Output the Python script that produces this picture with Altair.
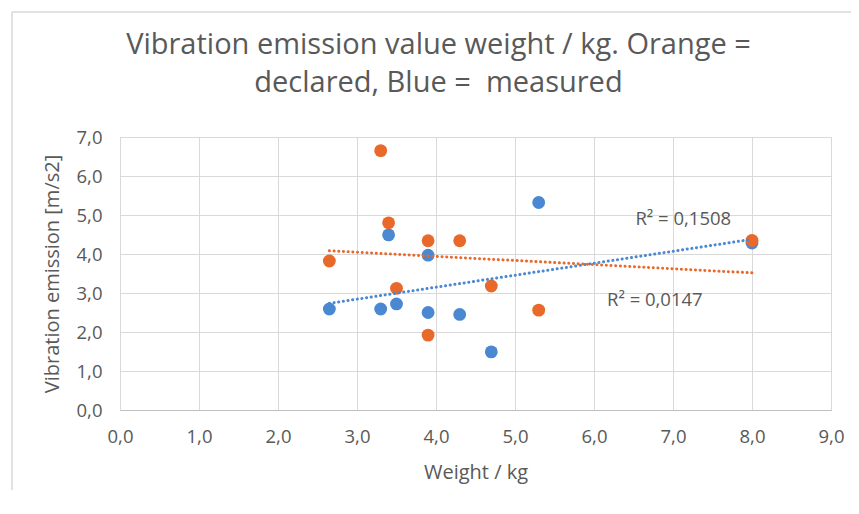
import altair as alt
import pandas as pd

# ---- data ----
weight_measured = [2.65, 3.3, 3.4, 3.5, 3.9, 3.9, 4.3, 4.7, 5.3, 8.0]
measured = [2.59, 2.59, 4.49, 2.72, 3.97, 2.50, 2.45, 1.49, 5.32, 4.28]
weight_declared = [2.65, 3.3, 3.4, 3.5, 3.9, 3.9, 4.3, 4.7, 5.3, 8.0]
declared = [3.82, 6.65, 4.80, 3.12, 4.34, 1.92, 4.34, 3.18, 2.56, 4.35]

series_names = ["measured", "declared"]
series_colors = ["#4A89D2", "#E8692A"]

r2_text = ["R\u00b2 = 0,1508", "R\u00b2 = 0,0147"]
r2_x = [7.13, 6.77]
r2_y = [4.90, 2.83]

title_lines = ["Vibration emission value weight / kg. Orange =", "declared, Blue =\u00a0 measured"]
x_ticks = [0, 1, 2, 3, 4, 5, 6, 7, 8, 9]
y_ticks = [0, 1, 2, 3, 4, 5, 6, 7]

df = pd.DataFrame({
    "weight": weight_measured + weight_declared,
    "value": measured + declared,
    "series": ["measured"] * len(measured) + ["declared"] * len(declared),
})
labels = pd.DataFrame({"x": r2_x, "y": r2_y, "t": r2_text})

FONT = "Open Sans"
GREY = "#595959"
comma = "replace(format(datum.value, '.1f'), '.', ',')"

xscale = alt.Scale(domain=[0, 9], nice=False, zero=False)
yscale = alt.Scale(domain=[0, 7], nice=False, zero=False)
cscale = alt.Scale(domain=series_names, range=series_colors)

common = dict(labelExpr=comma, ticks=False, grid=True, gridColor="#d9d9d9",
              labelFont=FONT, titleFont=FONT, labelFontSize=18.5, titleFontSize=20,
              labelColor=GREY, titleColor=GREY, titleFontWeight="normal",
              labelOverlap=False, labelFlush=False)
xaxis = alt.Axis(values=x_ticks, title="Weight / kg", labelPadding=17, titlePadding=17,
                 domainColor="#bfbfbf", **common)
yaxis = alt.Axis(values=y_ticks, title="Vibration emission [m/s2]", labelPadding=18,
                 titlePadding=14, domainColor="#d9d9d9", **common)

X = lambda f: alt.X(f, scale=xscale, axis=xaxis)
Y = lambda f: alt.Y(f, scale=yscale, axis=yaxis)

base = alt.Chart(df)

points = base.mark_circle(size=165, opacity=1).encode(
    x=X("weight:Q"),
    y=Y("value:Q"),
    color=alt.Color("series:N", scale=cscale, legend=None),
    order=alt.Order("order:Q"),
).transform_calculate(order="datum.series == 'measured' ? 0 : 1")

trend = base.transform_regression(
    "weight", "value", groupby=["series"]
).mark_line(strokeWidth=3, strokeDash=[0.1, 4.6], strokeCap="round").encode(
    x=X("weight:Q"),
    y=Y("value:Q"),
    color=alt.Color("series:N", scale=cscale, legend=None),
)

r2 = alt.Chart(labels).mark_text(font=FONT, fontSize=18.5, color=GREY).encode(
    x=X("x:Q"),
    y=Y("y:Q"),
    text="t:N",
)

frame = pd.DataFrame({"k": [0]})
left_border = alt.Chart(frame).mark_rule(color="#d9d9d9", strokeWidth=1.5).encode(
    x=alt.value(-108), y=alt.value(-125), y2=alt.value(380))
top_border = alt.Chart(frame).mark_rule(color="#d9d9d9", strokeWidth=1.5).encode(
    x=alt.value(-108), x2=alt.value(745), y=alt.value(-125))

chart = alt.layer(left_border, top_border, points, trend, r2).properties(
    width=711,
    height=273,
    autosize=alt.AutoSizeParams(type="none"),
    padding={"left": 112, "top": 129, "right": 20, "bottom": 80},
    title=alt.Title(text=title_lines, font=FONT, fontSize=29, fontWeight="normal",
                    color=GREY, lineHeight=38, offset=-87, frame="group", dx=-37),
).configure_view(stroke=None).configure(background="white")

chart.save("out.html", embed_options={"renderer": "svg", "actions": False})
